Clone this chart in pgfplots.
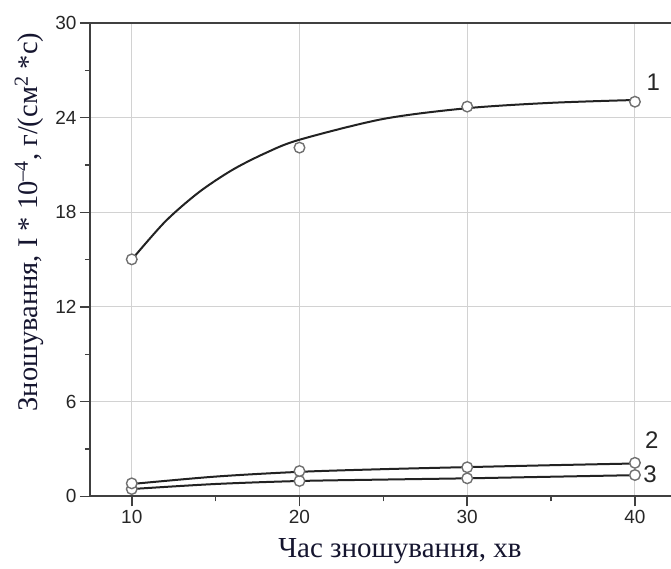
\documentclass[border=0pt]{standalone}
\usepackage{fontspec}
\setmainfont{Liberation Serif}
\setsansfont{Liberation Sans}
\usepackage{pgfplots}
\pgfplotsset{compat=1.18}
\usetikzlibrary{calc}
\definecolor{axisgray}{HTML}{404040}
\definecolor{curvecol}{HTML}{222222}
\definecolor{markgray}{HTML}{707070}
\definecolor{labelcol}{HTML}{15152F}

\begin{document}
\begin{tikzpicture}
\begin{axis}[
    name=ax,
    scale only axis, width=581pt, height=473.3pt,
    xmin=7.51, xmax=42.15, ymin=0, ymax=30,
    axis x line=box, axis y line*=left,
    axis line style={axisgray, line width=2pt},
    xtick={10,20,30,40}, ytick={0,6,12,18,24,30},
    minor x tick num=1, minor y tick num=1,
    xtick pos=bottom, ytick pos=left,
    tick align=outside,
    major tick length=10pt, minor tick length=5pt,
    every tick/.style={axisgray, line width=1.5pt},
    grid=major, major grid style={gray!35, line width=1pt},
    tick label style={font=\fontsize{19}{22}\selectfont\sffamily, text=black!85},
    /pgf/number format/assume math mode=true,
    xlabel={Час зношування, хв},
    xlabel style={at={(axis description cs:0.318,0)}, anchor=base west, yshift=-61pt,
        font=\fontsize{29}{33}\selectfont, text=labelcol},
    ylabel={Зношування, I * 10\textsuperscript{–4}, г/(см\textsuperscript{2} *с)},
    ylabel style={at={(axis description cs:-0.0912,0.172)}, anchor=base west, rotate=0,
        font=\fontsize{28.5}{32}\selectfont, text=labelcol},
]
% fitted curves
\addplot[curvecol, line width=2pt, smooth] coordinates {
(10,15.0) (12,17.42) (14,19.27) (16,20.69) (18,21.77) (20,22.6) (25,23.92) (30,24.6) (35,24.94) (40,25.12)};
\addplot[curvecol, line width=2pt, smooth] coordinates {
(10,0.78) (15,1.25) (20,1.55) (25,1.72) (30,1.85) (35,1.97) (40,2.08)};
\addplot[curvecol, line width=2pt, smooth] coordinates {
(10,0.46) (15,0.78) (20,0.97) (25,1.06) (30,1.14) (35,1.24) (40,1.34)};
% measured points
\addplot[only marks, mark=*, mark size=5.3pt, mark options={draw=markgray, fill=white, line width=1.4pt}] coordinates {
(10,15.02) (20,22.1) (30,24.7) (40,25.01)};
\addplot[only marks, mark=*, mark size=5.3pt, mark options={draw=markgray, fill=white, line width=1.4pt}] coordinates {
(10,0.46) (20,0.97) (30,1.14) (40,1.35)};
\addplot[only marks, mark=*, mark size=5.3pt, mark options={draw=markgray, fill=white, line width=1.4pt}] coordinates {
(10,0.82) (20,1.6) (30,1.84) (40,2.12)};
\node[anchor=base, font=\fontsize{24}{28}\selectfont\sffamily, text=black!85] at (axis cs:41.1,25.75) {1};
\node[anchor=base, font=\fontsize{24}{28}\selectfont\sffamily, text=black!85] at (axis cs:41.0,3.06) {2};
\node[anchor=base, font=\fontsize{24}{28}\selectfont\sffamily, text=black!85] at (axis cs:40.9,0.85) {3};
\end{axis}
\pgfresetboundingbox
\path ($(ax.south west)+(-90pt,-72.7pt)$) rectangle ($(ax.north east)+(0pt,23pt)$);
\end{tikzpicture}
\end{document}
